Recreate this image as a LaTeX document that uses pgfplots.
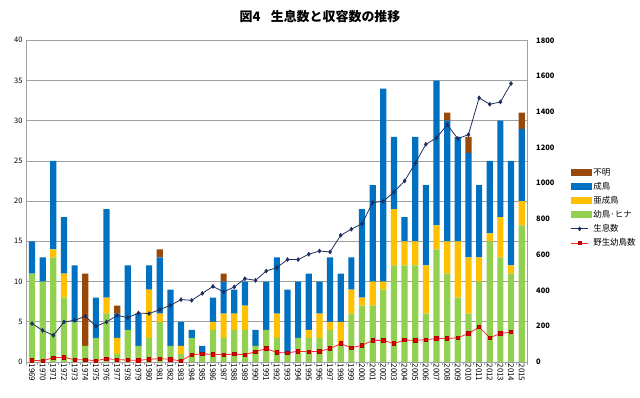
\documentclass[border=0pt]{standalone}
\usepackage{pgfplots}
\pgfplotsset{compat=1.18}
\usepackage{pgfplotstable}
\usepackage{fontspec}
\setmainfont{Noto Sans CJK JP}

\definecolor{cgreen}{HTML}{92D050}
\definecolor{cyellow}{HTML}{FFC000}
\definecolor{cblue}{HTML}{0070C0}
\definecolor{cbrown}{HTML}{984807}
\definecolor{cnavy}{HTML}{1F2F5F}
\definecolor{cred}{HTML}{E00000}
\definecolor{cdred}{HTML}{B00000}
\definecolor{cgrid}{HTML}{A0A0A0}

\pgfplotstableread{
year green yellow blue brown
1969 11 0 4 0
1970 10 0 3 0
1971 13 1 11 0
1972 8 3 7 0
1973 5 0 7 0
1974 2 0 0 9
1975 3 0 5 0
1976 6 2 11 0
1977 1 2 3 1
1978 4 0 8 0
1979 2 0 4 0
1980 3 6 3 0
1981 5 1 7 1
1982 2 0 7 0
1983 1 1 3 0
1984 3 0 1 0
1985 1 0 1 0
1986 4 1 3 0
1987 3 3 4 1
1988 4 2 3 0
1989 4 3 3 0
1990 2 0 2 0
1991 4 0 6 0
1992 3 3 7 0
1993 1 0 8 0
1994 3 0 7 0
1995 3 1 7 0
1996 3 3 4 0
1997 4 1 8 0
1998 2 3 6 0
1999 6 3 4 0
2000 7 1 11 0
2001 7 3 12 0
2002 9 1 24 0
2003 12 7 9 0
2004 12 3 3 0
2005 12 3 13 0
2006 6 6 10 0
2007 14 3 18 0
2008 11 4 15 1
2009 8 7 13 0
2010 6 7 13 2
2011 10 3 9 0
2012 15 1 9 0
2013 13 5 12 0
2014 11 1 13 0
2015 17 3 9 2
}\bars

\pgfplotstableread{
year pop
1969 215
1970 177
1971 149
1972 224
1973 233
1974 256
1975 200
1976 224
1977 261
1978 248
1979 274
1980 271
1981 293
1982 317
1983 349
1984 345
1985 384
1986 423
1987 392
1988 420
1989 466
1990 457
1991 509
1992 528
1993 573
1994 573
1995 603
1996 621
1997 616
1998 709
1999 743
2000 774
2001 892
2002 899
2003 951
2004 1013
2005 1112
2006 1218
2007 1254
2008 1328
2009 1250
2010 1272
2011 1478
2012 1442
2013 1455
2014 1558
}\pop

\pgfplotstableread{
year juv
1969 9
1970 7
1971 24
1972 26
1973 13
1974 13
1975 7
1976 19
1977 13
1978 11
1979 9
1980 15
1981 19
1982 15
1983 6
1984 41
1985 45
1986 43
1987 41
1988 44
1989 41
1990 58
1991 75
1992 53
1993 51
1994 60
1995 57
1996 60
1997 75
1998 103
1999 80
2000 93
2001 121
2002 121
2003 103
2004 123
2005 121
2006 125
2007 131
2008 131
2009 136
2010 159
2011 196
2012 136
2013 159
2014 168
}\juv

\begin{document}
\begin{tikzpicture}
\begin{axis}[
  scale only axis, width=500.3bp, height=321.7bp,
  ybar stacked, bar width=6.2bp,
  xmin=1968.5, xmax=2015.5, ymin=0, ymax=40,
  ytick={0,5,...,40},
  xtick={1969,...,2015},
  minor xtick={1968.5,1969.5,...,2015.5},
  major tick length=0pt, minor tick length=3bp,
  tick align=outside,
  axis x line*=bottom, axis y line*=left,
  axis line style={cgrid, line width=0.6bp, -},
  minor tick style={cgrid, line width=0.5bp},
  ymajorgrids, grid style={cgrid, line width=0.6bp},
  /pgf/number format/assume math mode=true,
  xticklabel style={rotate=-90, anchor=west, font=\fontsize{8}{9}\selectfont, /pgf/number format/1000 sep={}, inner sep=1.5bp},
  yticklabel style={font=\fontsize{7.5}{8}\selectfont, inner sep=2bp, xshift=-2bp},
]
\addplot[fill=cgreen, draw=none] table[x=year, y=green]{\bars};
\addplot[fill=cyellow, draw=none] table[x=year, y=yellow]{\bars};
\addplot[fill=cblue, draw=none] table[x=year, y=blue]{\bars};
\addplot[fill=cbrown, draw=none] table[x=year, y=brown]{\bars};
\end{axis}
\begin{axis}[
  scale only axis, width=500.3bp, height=321.7bp,
  xmin=1968.5, xmax=2015.5, ymin=0, ymax=1800,
  axis x line=none, axis y line*=right,
  axis line style={cgrid, line width=0.6bp, -},
  ytick={0,200,...,1800},
  major tick length=0pt,
  /pgf/number format/assume math mode=true,
  yticklabel style={font=\fontsize{7.5}{8}\selectfont\bfseries, /pgf/number format/1000 sep={}, inner sep=2bp, xshift=7bp},
  legend style={draw=none, fill=none, at={(1.081,0.615)}, anchor=north west, font=\fontsize{8.5}{10}\selectfont, row sep=1.5bp},
  legend cell align=left,
]
\addlegendimage{legend image code/.code={\fill[cbrown] (0bp,-3bp) rectangle (20bp,3bp);}}
\addlegendentry{不明}
\addlegendimage{legend image code/.code={\fill[cblue] (0bp,-3bp) rectangle (20bp,3bp);}}
\addlegendentry{成鳥}
\addlegendimage{legend image code/.code={\fill[cyellow] (0bp,-3bp) rectangle (20bp,3bp);}}
\addlegendentry{亜成鳥}
\addlegendimage{legend image code/.code={\fill[cgreen] (0bp,-3bp) rectangle (20bp,3bp);}}
\addlegendentry{幼鳥·ヒナ}
\addplot[cnavy, line width=0.8bp, mark=diamond*, mark size=1.8bp, mark options={fill=cnavy}] table[x=year, y=pop]{\pop};
\addlegendentry{生息数}
\addplot[red!85!white, line width=0.8bp, mark=square*, mark size=1.7bp, mark options={fill=cred, draw=cdred}] table[x=year, y=juv]{\juv};
\addlegendentry{野生幼鳥数}
\end{axis}
\node[font=\bfseries\fontsize{13}{14}\selectfont] at (293.3bp,345bp) {図4\hspace{0.8em}生息数と収容数の推移};
\pgfresetboundingbox
\path (-26.7bp,-36bp) rectangle (613.3bp,362bp);
\end{tikzpicture}
\end{document}
